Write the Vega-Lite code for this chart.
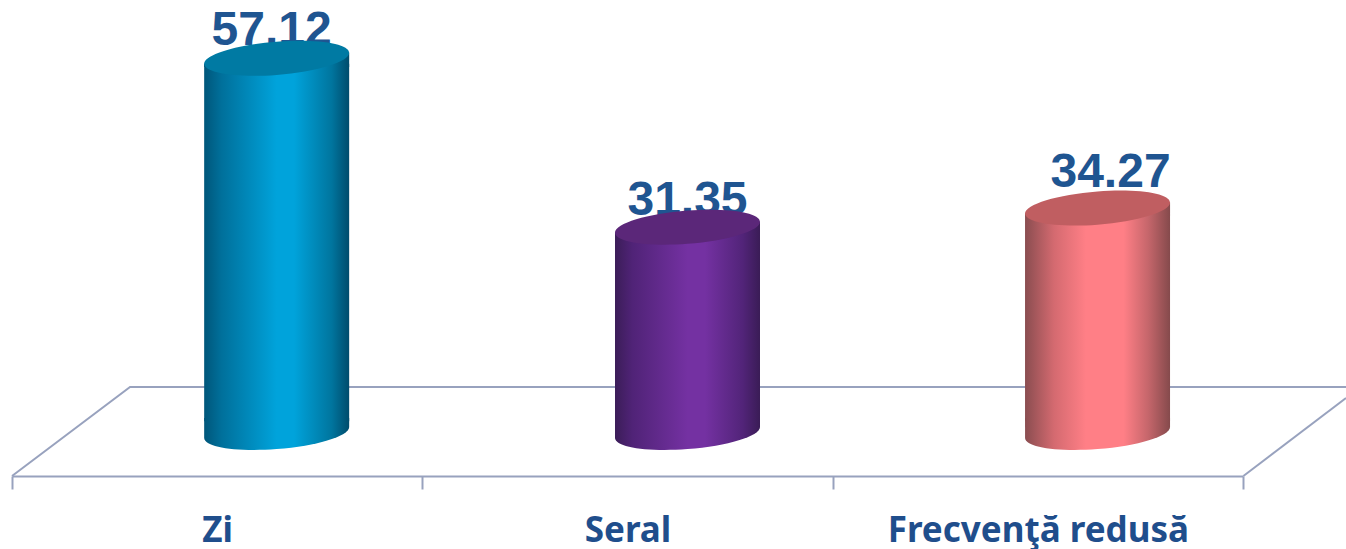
{"$schema":"https://vega.github.io/schema/vega-lite/v6.json","autosize":"none","width":1346,"height":476,"padding":{"left":0,"top":0,"right":0,"bottom":73},"background":"white","config":{"view":{"stroke":null}},"data":{"values":[{"category":"Zi","value":57.12},{"category":"Seral","value":31.35},{"category":"Frecvenţă redusă","value":34.27}]},"resolve":{"scale":{"x":"independent"},"axis":{"x":"independent"}},"layer":[{"data":{"values":[{"edge":"back","floorX":0,"floorY":-6.64},{"edge":"back","floorX":0.2876,"floorY":6.95},{"edge":"back","floorX":3.25,"floorY":6.95},{"edge":"side","floorX":3,"floorY":-6.64},{"edge":"side","floorX":3.25,"floorY":5.27}]},"mark":{"type":"line","color":"#98A2BE","strokeWidth":2,"clip":false},"encoding":{"x":{"field":"floorX","type":"quantitative","scale":{"domain":[-0.02924,3.25],"range":[0,1346],"nice":false,"zero":false},"axis":null},"y":{"field":"floorY","type":"quantitative","scale":{"domain":[-6.64,66.03],"nice":false,"zero":false},"axis":null},"detail":{"field":"edge"},"order":{"field":"floorX"}}},{"encoding":{"x":{"field":"category","type":"nominal","sort":null,"scale":{"type":"band","domain":["Zi","Seral","Frecvenţă redusă"],"range":[12,1243],"paddingInner":0,"paddingOuter":0},"axis":{"title":null,"labelAngle":0,"labelFont":"Noto Sans","labelFontWeight":"bold","labelFontSize":35,"labelColor":"#1F4E8C","labelPadding":52,"labelBaseline":"alphabetic","labelLimit":600,"tickBand":"extent","tickSize":13,"tickWidth":2,"tickColor":"#98A2BE","domainColor":"#98A2BE","domainWidth":2,"grid":false,"labelOverlap":false,"labelFlush":false}}},"layer":[{"transform":[{"filter":"datum.category==='Zi'"}],"layer":[{"mark":{"type":"text","font":"Liberation Sans","fontWeight":"bold","fontSize":48,"color":"#1F5591","dx":54.5,"dy":-13.5,"baseline":"alphabetic","align":"center"},"encoding":{"y":{"field":"value","type":"quantitative"},"text":{"field":"value","type":"quantitative","format":".2f"}}},{"mark":{"type":"bar","width":145,"xOffset":59.5,"yOffset":5.5,"color":{"gradient":"linear","x1":0,"x2":1,"y1":0,"y2":0,"stops":[{"offset":0,"color":"#00567A"},{"offset":0.12,"color":"#00709B"},{"offset":0.5,"color":"#00A3DB"},{"offset":0.62,"color":"#00A3DB"},{"offset":0.88,"color":"#00759E"},{"offset":1,"color":"#004C6C"}]}},"encoding":{"y":{"field":"value","type":"quantitative","stack":null},"y2":{"datum":1.7}}},{"mark":{"type":"point","filled":true,"opacity":1,"strokeWidth":0,"size":21025,"xOffset":59.5,"shape":"M-1,.076 L1,-.076 L1,.12 L-1,.12 Z","color":{"gradient":"linear","x1":0,"x2":1,"y1":0,"y2":0,"stops":[{"offset":0,"color":"#00567A"},{"offset":0.12,"color":"#00709B"},{"offset":0.5,"color":"#00A3DB"},{"offset":0.62,"color":"#00A3DB"},{"offset":0.88,"color":"#00759E"},{"offset":1,"color":"#004C6C"}]}},"encoding":{"y":{"field":"value","type":"quantitative"}}},{"mark":{"type":"point","filled":true,"opacity":1,"strokeWidth":0,"size":21025,"xOffset":59.5,"shape":"M1,-.076 C1,.0505 .5523,.187 0,.229 C-.5523,.271 -1,.2025 -1,.076 L-1,-.2 L1,-.2 Z","color":{"gradient":"linear","x1":0,"x2":1,"y1":0,"y2":0,"stops":[{"offset":0,"color":"#00567A"},{"offset":0.12,"color":"#00709B"},{"offset":0.5,"color":"#00A3DB"},{"offset":0.62,"color":"#00A3DB"},{"offset":0.88,"color":"#00759E"},{"offset":1,"color":"#004C6C"}]}},"encoding":{"y":{"datum":0,"type":"quantitative"}}},{"mark":{"type":"point","filled":true,"opacity":1,"strokeWidth":0,"size":21025,"xOffset":59.5,"color":"#007AA3","shape":"M1,-.076 C1,.0505 .5523,.187 0,.229 C-.5523,.271 -1,.2025 -1,.076 C-1,-.0505 -.5523,-.187 0,-.229 C.5523,-.271 1,-.2025 1,-.076 Z"},"encoding":{"y":{"field":"value","type":"quantitative"}}}]},{"transform":[{"filter":"datum.category==='Seral'"}],"layer":[{"mark":{"type":"text","font":"Liberation Sans","fontWeight":"bold","fontSize":48,"color":"#1F5591","dx":60,"dy":-12.5,"baseline":"alphabetic","align":"center"},"encoding":{"y":{"field":"value","type":"quantitative"},"text":{"field":"value","type":"quantitative","format":".2f"}}},{"mark":{"type":"bar","width":145,"xOffset":60,"yOffset":5.5,"color":{"gradient":"linear","x1":0,"x2":1,"y1":0,"y2":0,"stops":[{"offset":0,"color":"#3B1D58"},{"offset":0.12,"color":"#502377"},{"offset":0.5,"color":"#7431A2"},{"offset":0.62,"color":"#7431A2"},{"offset":0.88,"color":"#522479"},{"offset":1,"color":"#3A1C56"}]}},"encoding":{"y":{"field":"value","type":"quantitative","stack":null},"y2":{"datum":1.7}}},{"mark":{"type":"point","filled":true,"opacity":1,"strokeWidth":0,"size":21025,"xOffset":60,"shape":"M-1,.076 L1,-.076 L1,.12 L-1,.12 Z","color":{"gradient":"linear","x1":0,"x2":1,"y1":0,"y2":0,"stops":[{"offset":0,"color":"#3B1D58"},{"offset":0.12,"color":"#502377"},{"offset":0.5,"color":"#7431A2"},{"offset":0.62,"color":"#7431A2"},{"offset":0.88,"color":"#522479"},{"offset":1,"color":"#3A1C56"}]}},"encoding":{"y":{"field":"value","type":"quantitative"}}},{"mark":{"type":"point","filled":true,"opacity":1,"strokeWidth":0,"size":21025,"xOffset":60,"shape":"M1,-.076 C1,.0505 .5523,.187 0,.229 C-.5523,.271 -1,.2025 -1,.076 L-1,-.2 L1,-.2 Z","color":{"gradient":"linear","x1":0,"x2":1,"y1":0,"y2":0,"stops":[{"offset":0,"color":"#3B1D58"},{"offset":0.12,"color":"#502377"},{"offset":0.5,"color":"#7431A2"},{"offset":0.62,"color":"#7431A2"},{"offset":0.88,"color":"#522479"},{"offset":1,"color":"#3A1C56"}]}},"encoding":{"y":{"datum":0,"type":"quantitative"}}},{"mark":{"type":"point","filled":true,"opacity":1,"strokeWidth":0,"size":21025,"xOffset":60,"color":"#5B2779","shape":"M1,-.076 C1,.0505 .5523,.187 0,.229 C-.5523,.271 -1,.2025 -1,.076 C-1,-.0505 -.5523,-.187 0,-.229 C.5523,-.271 1,-.2025 1,-.076 Z"},"encoding":{"y":{"field":"value","type":"quantitative"}}}]},{"transform":[{"filter":"datum.category==='Frecvenţă redusă'"}],"layer":[{"mark":{"type":"text","font":"Liberation Sans","fontWeight":"bold","fontSize":48,"color":"#1F5591","dx":72.7,"dy":-21.5,"baseline":"alphabetic","align":"center"},"encoding":{"y":{"field":"value","type":"quantitative"},"text":{"field":"value","type":"quantitative","format":".2f"}}},{"mark":{"type":"bar","width":145,"xOffset":59.7,"yOffset":5.5,"color":{"gradient":"linear","x1":0,"x2":1,"y1":0,"y2":0,"stops":[{"offset":0,"color":"#8A4D50"},{"offset":0.2,"color":"#D46A70"},{"offset":0.42,"color":"#FF7F86"},{"offset":0.68,"color":"#FF7F86"},{"offset":0.85,"color":"#C5666B"},{"offset":1,"color":"#854A4C"}]}},"encoding":{"y":{"field":"value","type":"quantitative","stack":null},"y2":{"datum":1.7}}},{"mark":{"type":"point","filled":true,"opacity":1,"strokeWidth":0,"size":21025,"xOffset":59.7,"shape":"M-1,.076 L1,-.076 L1,.12 L-1,.12 Z","color":{"gradient":"linear","x1":0,"x2":1,"y1":0,"y2":0,"stops":[{"offset":0,"color":"#8A4D50"},{"offset":0.2,"color":"#D46A70"},{"offset":0.42,"color":"#FF7F86"},{"offset":0.68,"color":"#FF7F86"},{"offset":0.85,"color":"#C5666B"},{"offset":1,"color":"#854A4C"}]}},"encoding":{"y":{"field":"value","type":"quantitative"}}},{"mark":{"type":"point","filled":true,"opacity":1,"strokeWidth":0,"size":21025,"xOffset":59.7,"shape":"M1,-.076 C1,.0505 .5523,.187 0,.229 C-.5523,.271 -1,.2025 -1,.076 L-1,-.2 L1,-.2 Z","color":{"gradient":"linear","x1":0,"x2":1,"y1":0,"y2":0,"stops":[{"offset":0,"color":"#8A4D50"},{"offset":0.2,"color":"#D46A70"},{"offset":0.42,"color":"#FF7F86"},{"offset":0.68,"color":"#FF7F86"},{"offset":0.85,"color":"#C5666B"},{"offset":1,"color":"#854A4C"}]}},"encoding":{"y":{"datum":0,"type":"quantitative"}}},{"mark":{"type":"point","filled":true,"opacity":1,"strokeWidth":0,"size":21025,"xOffset":59.7,"color":"#C05E61","shape":"M1,-.076 C1,.0505 .5523,.187 0,.229 C-.5523,.271 -1,.2025 -1,.076 C-1,-.0505 -.5523,-.187 0,-.229 C.5523,-.271 1,-.2025 1,-.076 Z"},"encoding":{"y":{"field":"value","type":"quantitative"}}}]}]}]}
